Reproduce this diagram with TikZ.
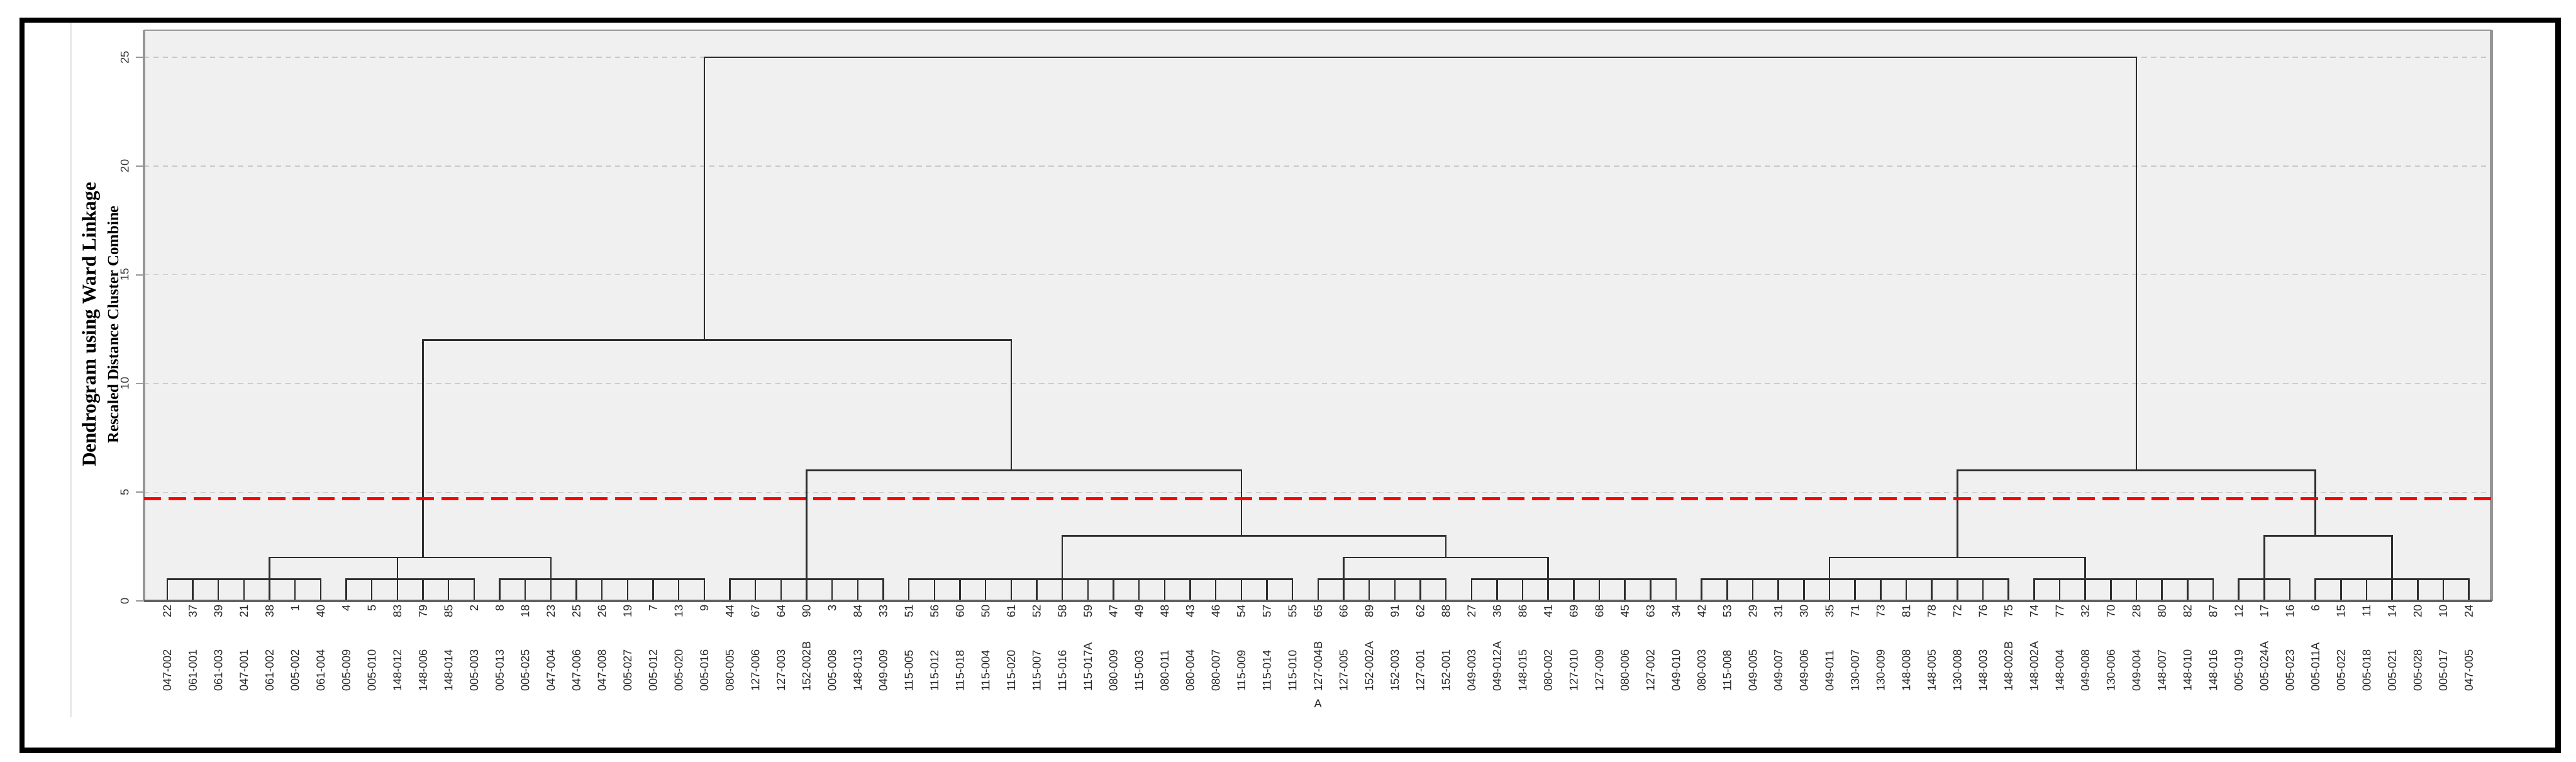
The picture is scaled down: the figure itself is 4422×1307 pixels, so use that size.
\documentclass[tikz,border=0pt]{standalone}
\usepackage{fontspec}
\setmainfont{Liberation Serif}
\newfontfamily\labfont{Liberation Sans}
\definecolor{plotbg}{RGB}{240,240,240}
\definecolor{gridc}{RGB}{200,200,200}
\definecolor{framec}{RGB}{150,150,150}
\definecolor{treec}{RGB}{45,45,45}
\newcommand\LX[1]{287+43.9*(#1)}
\newcommand\LY[1]{1031-37.3*(#1)}
% group of leaves joined at height 1: first, last, rising leaf, top level
\newcommand\grp[4]{%
  \foreach \k in {#1,...,#2}{\draw[tree] (L\k) -- ++(0,-37.3);}
  \draw[tree] ({\LX{#1}},{\LY{1}}) -- ({\LX{#2}},{\LY{1}});
  \draw[tree] ({\LX{#3}},{\LY{1}}) -- ({\LX{#3}},{\LY{#4}});}
% merge: from, to, level, rising position, top level
\newcommand\mrg[5]{%
  \draw[tree] ({\LX{#1}},{\LY{#3}}) -- ({\LX{#2}},{\LY{#3}});
  \draw[tree] ({\LX{#4}},{\LY{#3}}) -- ({\LX{#4}},{\LY{#5}});}
\begin{document}
\begin{tikzpicture}[x=0.01cm,y=-0.01cm,
  tree/.style={draw=treec,line width=0.75pt,line cap=rect},
  leafnum/.style={rotate=90,anchor=east,inner sep=0pt,font=\labfont\fontsize{5.6}{6}\selectfont,text=black!85},
  leaflab/.style={rotate=90,anchor=west,inner sep=0pt,font=\labfont\fontsize{5.6}{6}\selectfont,text=black!85},
  ticklab/.style={rotate=90,inner sep=0pt,font=\labfont\fontsize{5.6}{6}\selectfont,text=black!80}]
\useasboundingbox (0,0) rectangle (4422,1307);
\fill[white] (0,0) rectangle (4422,1307);
% faint edge of chart image
\draw[black!9,line width=0.9pt] (121,38) -- (121,1231);
% plot area
\fill[plotbg] (247,52) rectangle (4277,1031);
\foreach \v in {5,10,15,20,25}
  \draw[gridc,line width=0.45pt,dash pattern=on 2.6pt off 2pt] (247,{\LY{\v}}) -- (4277,{\LY{\v}});
\foreach \v in {0,5,10,15,20,25}{
  \draw[framec,line width=0.6pt] (233,{\LY{\v}}) -- (247,{\LY{\v}});
  \node[ticklab] (t\v) at (214,{\LY{\v}}) {\v};}
\draw[framec,line width=0.6pt] (247,52) -- (4277,52);
\draw[framec,line width=1.2pt] (247,52) -- (247,1031);
\draw[framec,line width=1.4pt] (4277,52) -- (4277,1031);
% leaves
\foreach \n/\lab [count=\i from 0] in {22/047-002,37/061-001,39/061-003,21/047-001,38/061-002,1/005-002,40/061-004,
  4/005-009,5/005-010,83/148-012,79/148-006,85/148-014,2/005-003,
  8/005-013,18/005-025,23/047-004,25/047-006,26/047-008,19/005-027,7/005-012,13/005-020,9/005-016,
  44/080-005,67/127-006,64/127-003,90/152-002B,3/005-008,84/148-013,33/049-009,
  51/115-005,56/115-012,60/115-018,50/115-004,61/115-020,52/115-007,58/115-016,59/115-017A,47/080-009,49/115-003,48/080-011,43/080-004,46/080-007,54/115-009,57/115-014,55/115-010,
  65/127-004B,66/127-005,89/152-002A,91/152-003,62/127-001,88/152-001,
  27/049-003,36/049-012A,86/148-015,41/080-002,69/127-010,68/127-009,45/080-006,63/127-002,34/049-010,
  42/080-003,53/115-008,29/049-005,31/049-007,30/049-006,35/049-011,71/130-007,73/130-009,81/148-008,78/148-005,72/130-008,76/148-003,75/148-002B,
  74/148-002A,77/148-004,32/049-008,70/130-006,28/049-004,80/148-007,82/148-010,87/148-016,
  12/005-019,17/005-024A,16/005-023,
  6/005-011A,15/005-022,11/005-018,14/005-021,20/005-028,10/005-017,24/047-005}{
  \coordinate (L\i) at ({\LX{\i}},1031);
  \node[leafnum] (n\i) at ({\LX{\i}},1037) {\n};
  \node[leaflab] (s\i) at ({\LX{\i}},1187) {\lab};}
\node[inner sep=0pt,font=\labfont\fontsize{5.6}{6}\selectfont,text=black!85] (extraA) at ({\LX{45}},1207) {A};
% tree
\grp{0}{6}{4}{2}
\grp{7}{12}{9}{2}
\grp{13}{21}{15}{2}
\mrg{4}{15}{2}{10}{12}
\grp{22}{28}{25}{6}
\grp{29}{44}{35}{3}
\grp{45}{50}{46}{2}
\grp{51}{59}{54}{2}
\mrg{46}{54}{2}{50}{3}
\mrg{35}{50}{3}{42}{6}
\mrg{25}{42}{6}{33}{12}
\mrg{10}{33}{12}{21}{25}
\grp{60}{72}{65}{2}
\grp{73}{80}{75}{2}
\mrg{65}{75}{2}{70}{6}
\grp{81}{83}{82}{3}
\grp{84}{90}{87}{3}
\mrg{82}{87}{3}{84}{6}
\mrg{70}{84}{6}{77}{25}
\draw[tree] ({\LX{21}},{\LY{25}}) -- ({\LX{77}},{\LY{25}});
% axis base line
\draw[black!62,line width=1.1pt] (247,1031) -- (4277,1031);
% cut line
\draw[red,line width=1.4pt,dash pattern=on 8.5pt off 3.6pt] (247,{\LY{4.7}}) -- (4277,{\LY{4.7}});
% axis title
\node[rotate=90,inner sep=0pt,font=\bfseries\fontsize{9.6}{10}\selectfont] (title) at (157,557) {Dendrogram using Ward Linkage};
\node[rotate=90,inner sep=0pt,font=\bfseries\fontsize{7.6}{8}\selectfont] (subtitle) at (194,557) {Rescaled Distance Cluster Combine};
% outer frame
\draw[black,line width=2.6pt] (37.5,34.5) rectangle (4391,1287.5);
\end{tikzpicture}
\end{document}
